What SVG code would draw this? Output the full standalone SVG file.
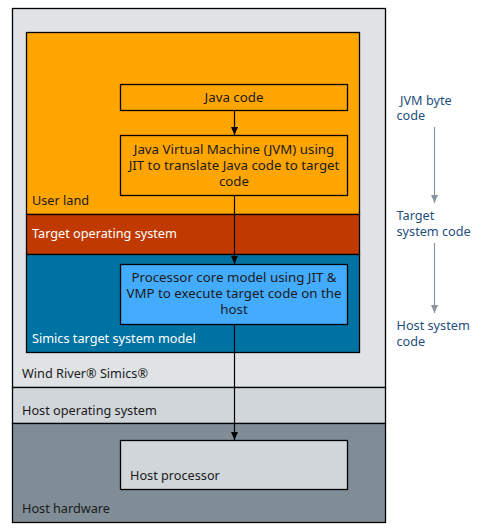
<svg xmlns="http://www.w3.org/2000/svg" width="485" height="528" viewBox="0 0 485 528">
<defs>
<style>
text{font-family:"Noto Sans","Open Sans","Liberation Sans",sans-serif;font-size:12.7px;fill:#1a1a1a}
.w{fill:#ffffff}
.c{text-anchor:middle;font-size:13.3px}
.b{fill:#1f4f7d}
.box{stroke:#000;stroke-width:1.3}
.ln{stroke:#000;stroke-width:1.2;fill:none}
.gl{stroke:#8a969f;stroke-width:1.2;fill:none}
</style>
<marker id="ah" markerWidth="8" markerHeight="8" refX="8" refY="4" orient="auto" markerUnits="userSpaceOnUse" viewBox="0 0 8 8">
<path d="M0,0.5 L8,4 L0,7.5 Z" fill="#000"/>
</marker>
<marker id="ahg" markerWidth="8" markerHeight="8" refX="8" refY="4" orient="auto" markerUnits="userSpaceOnUse" viewBox="0 0 8 8">
<path d="M0,0.5 L8,4 L0,7.5 Z" fill="#8a969f"/>
</marker>
</defs>
<g id="simics"><rect x="12.5" y="8.5" width="373" height="379" fill="#dfe3e6" class="box"/><text x="22" y="378">Wind River® Simics®</text></g>
<g id="host-os"><rect x="12.5" y="387.5" width="373" height="36" fill="#d1d6da" class="box"/><text x="22" y="415">Host operating system</text></g>
<g id="host-hw"><rect x="12.5" y="423.5" width="373" height="99" fill="#808d96" class="box"/><text x="22" y="513">Host hardware</text></g>
<g id="user-land"><rect x="26.5" y="32.5" width="333" height="182" fill="#ffa500" class="box"/><text x="32" y="205">User land</text></g>
<g id="target-os"><rect x="26.5" y="214.5" width="333" height="40" fill="#c03a00" class="box"/><text x="32" y="238" class="w">Target operating system</text></g>
<g id="target-model"><rect x="26.5" y="254.5" width="333" height="98" fill="#0073a3" class="box"/><text x="32" y="343" class="w">Simics target system model</text></g>
<g id="java-code"><rect x="120.5" y="84.5" width="227" height="26" fill="#ffa500" class="box"/><text x="234" y="101.5" class="c">Java code</text></g>
<g id="jvm"><rect x="120.5" y="135.5" width="227" height="60" fill="#ffa500" class="box"/><text x="234" y="153.5" class="c">Java Virtual Machine (JVM) using</text><text x="234" y="169.5" class="c">JIT to translate Java code to target</text><text x="234" y="185.5" class="c">code</text></g>
<g id="processor"><rect x="120.5" y="264.5" width="227" height="60" fill="#44acff" class="box"/><text x="234" y="282" class="c">Processor core model using JIT &amp;</text><text x="234" y="298" class="c">VMP to execute target code on the</text><text x="234" y="314" class="c">host</text></g>
<g id="host-processor"><rect x="120.5" y="440.5" width="227" height="49" fill="#d1d6da" class="box"/><text x="130" y="480">Host processor</text></g>
<g id="legend"><text x="400" y="104.5" class="b">JVM byte</text><text x="396.5" y="120" class="b">code</text><text x="396.5" y="220" class="b">Target</text><text x="396.5" y="236" class="b">system code</text><text x="396.5" y="330" class="b">Host system</text><text x="396.5" y="346" class="b">code</text></g>
<g id="connectors">
<line x1="234.5" y1="110.5" x2="234.5" y2="135" class="ln" marker-end="url(#ah)"/>
<line x1="234.5" y1="195.5" x2="234.5" y2="264" class="ln" marker-end="url(#ah)"/>
<line x1="234.5" y1="324.5" x2="234.5" y2="440" class="ln" marker-end="url(#ah)"/>
<line x1="434.5" y1="127" x2="434.5" y2="203" class="gl" marker-end="url(#ahg)"/>
<line x1="434.5" y1="243" x2="434.5" y2="313" class="gl" marker-end="url(#ahg)"/>
</g>
</svg>
